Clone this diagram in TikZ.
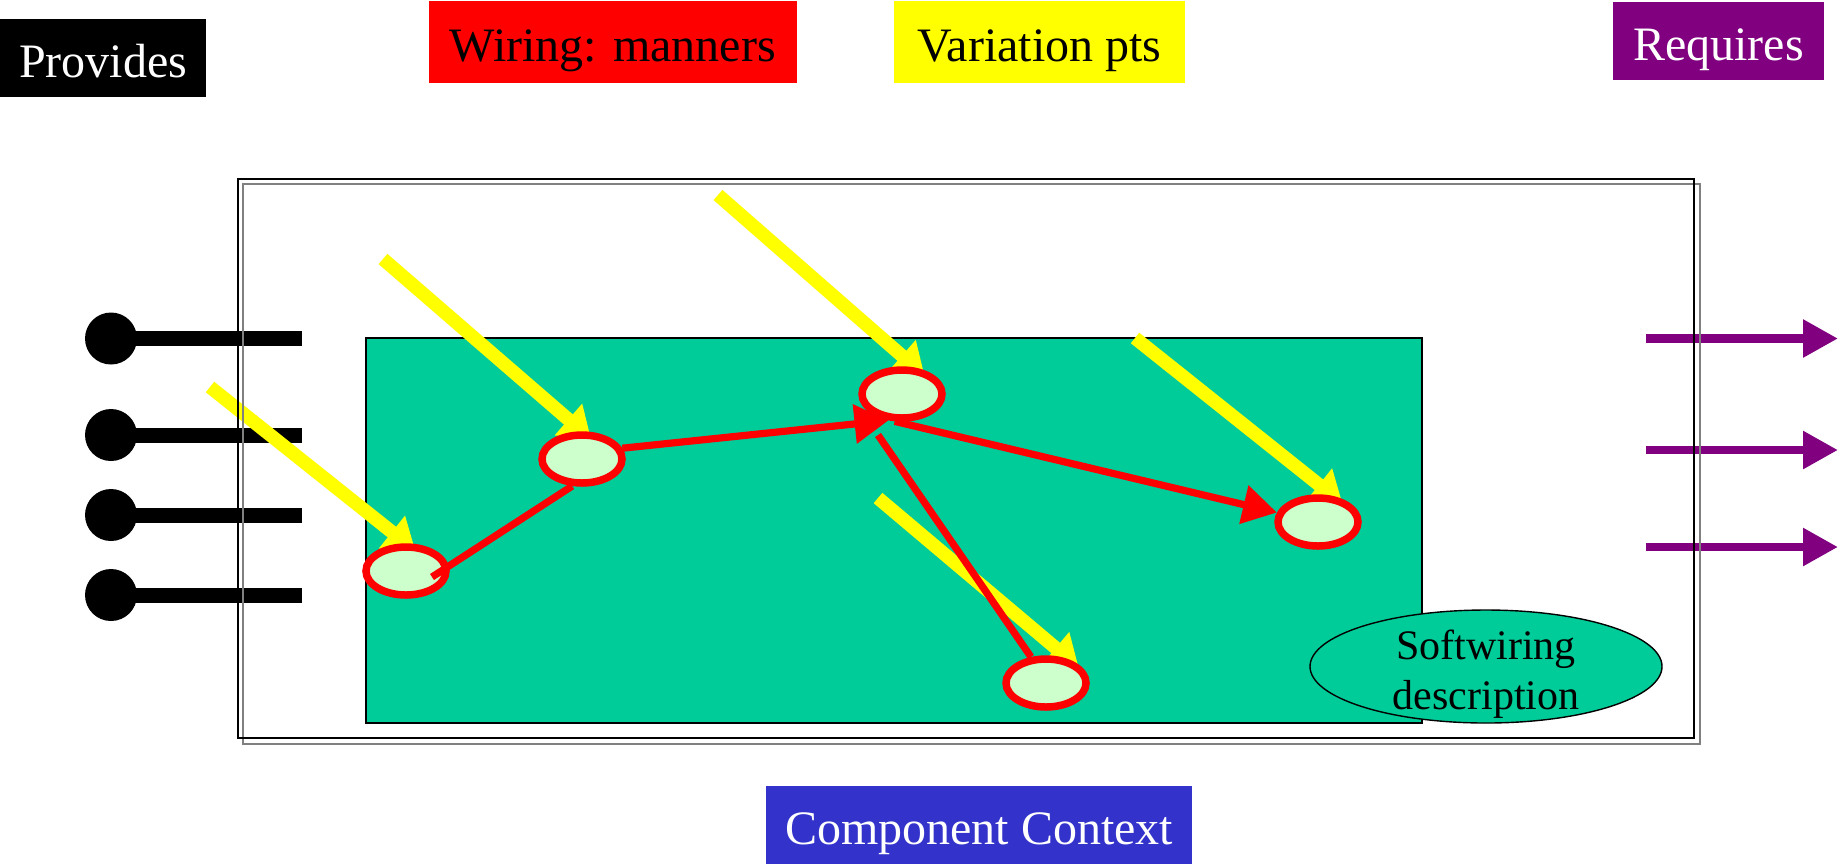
\documentclass[tikz,border=0pt]{standalone}
\usepackage{fontspec}
\setmainfont{Liberation Serif}
\usetikzlibrary{arrows.meta,shapes.geometric,backgrounds}
\definecolor{wirered}{HTML}{FF0000}
\definecolor{ptyellow}{HTML}{FFFF00}
\definecolor{reqpurple}{HTML}{800080}
\definecolor{ctxblue}{HTML}{3333CC}
\definecolor{coregreen}{HTML}{00CC99}
\definecolor{slotgreen}{HTML}{CCFFCC}
\definecolor{shadowgray}{HTML}{808080}

\begin{document}
\begin{tikzpicture}[
  x=.5pt,y=-.5pt,
  line cap=butt,line join=miter,
  font=\fontsize{24}{28}\selectfont,
  tag/.style={inner sep=0pt,text height=20pt,text depth=1pt},
  slot/.style={ellipse,draw=wirered,fill=slotgreen,line width=3.75pt,
               minimum width=40pt,minimum height=24pt,inner sep=0pt},
  vpt/.style={-{Triangle[length=15pt,width=20pt]},draw=ptyellow,
              line width=6.75pt,shorten >=-6pt},
  wire/.style={draw=wirered,line width=3.6pt},
  wirearr/.style={wire,-{Triangle[length=17pt,width=19pt]}},
  req/.style={-{Triangle[length=17.5pt,width=18pt]},draw=reqpurple,line width=4.3pt},
  plug/.style={circle,fill=black,minimum size=26pt,inner sep=0pt},
  bar/.style={draw=black,line width=7.5pt}
]
\useasboundingbox (0,0) rectangle (1845,864);

% wiring points inside the component
\node[slot] (n1) at (406,571) {};
\node[slot] (n2) at (582,459) {};
\node[slot] (n3) at (902,394) {};
\node[slot] (n4) at (1318,522) {};
\node[slot] (n5) at (1046,683) {};

\begin{scope}[on background layer]
\draw[fill=coregreen,draw=black,line width=.6pt] (366,338) rectangle (1422,723);
\node[ellipse,draw=black,fill=coregreen,line width=.7pt,minimum width=176pt,
      minimum height=56.5pt,inner sep=0pt,
      label={[align=center,font=\fontsize{21}{25}\selectfont,yshift=-4pt]center:Softwiring\\description}]
  (swdesc) at (1486,666.5) {};

% provided interfaces
\node[plug] (p1) at (111,338.5) {};
\node[plug] (p2) at (111,435) {};
\node[plug] (p3) at (111,515) {};
\node[plug] (p4) at (111,595) {};
\coordinate (p1end) at (302,338.5);
\coordinate (p2end) at (302,435);
\coordinate (p3end) at (302,515);
\coordinate (p4end) at (302,595);
\draw[bar] (p1.center) -- (p1end);
\draw[bar] (p2.center) -- (p2end);
\draw[bar] (p3.center) -- (p3end);
\draw[bar] (p4.center) -- (p4end);

% required interfaces
\coordinate (r1) at (1646,338.5);
\coordinate (r2) at (1646,450);
\coordinate (r3) at (1646,547);
\coordinate (r1end) at (1838,338.5);
\coordinate (r2end) at (1838,450);
\coordinate (r3end) at (1838,547);
\draw[req] (r1) -- (r1end);
\draw[req] (r2) -- (r2end);
\draw[req] (r3) -- (r3end);

% variation points
\coordinate (v1) at (210,387);
\coordinate (v2) at (383,259);
\coordinate (v3) at (718,195);
\coordinate (v4) at (1135,338);
\coordinate (v5) at (878,498);
\draw[vpt] (v1) -- (n1.north);
\draw[vpt] (v2) -- (n2.north);
\draw[vpt] (v3) -- (n3.63);
\draw[vpt] (v4) -- (n4.60);
\draw[vpt] (v5) -- (n5.45);
\end{scope}

% wiring
\draw[wire] ([xshift=13pt,yshift=-3pt]n1.center) -- (n2.250);
\draw[wirearr] (n2.15) -- (n3.243);
\draw[wirearr] (n3.255) -- (n4.167);
\draw[wire] ([xshift=-12pt,yshift=-20.5pt]n3.center) -- (n5.120);

% component frame
\draw[shadowgray,line width=1pt] (243,184) rectangle (1700,744);
\draw[black,line width=1pt] (238,179) rectangle (1694,738);

% legend tags
\node[tag,fill=black,text=white,minimum width=103pt,minimum height=39pt]
  (provides) at (103,58) {Provides};
\node[tag,fill=wirered,minimum width=183.75pt,minimum height=41pt]
  (wiring) at (612.75,42) {Wiring: manners};
\node[tag,fill=ptyellow,minimum width=145.5pt,minimum height=41pt]
  (varpts) at (1039.5,42) {Variation pts};
\node[tag,fill=reqpurple,text=white,minimum width=105.5pt,minimum height=39pt]
  (requires) at (1718.5,41) {Requires};
\node[tag,fill=ctxblue,text=white,minimum width=213pt,minimum height=39pt]
  (context) at (979,825) {Component Context};
\end{tikzpicture}
\end{document}
